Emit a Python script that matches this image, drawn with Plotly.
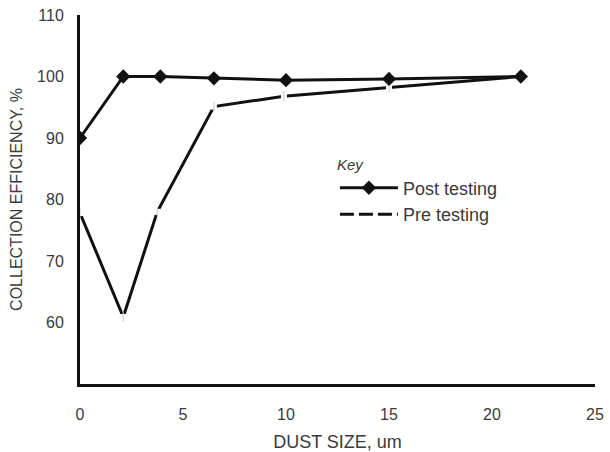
import plotly.graph_objects as go

dust_size_post = [0.0, 2.1, 3.9, 6.5, 10.0, 15.0, 21.4]
eff_post = [90.0, 100.0, 100.0, 99.7, 99.4, 99.6, 100.0]

dust_size_pre = [0.0, 2.1, 3.75, 6.5, 9.9, 15.0, 21.4]
eff_pre = [77.8, 60.9, 78.0, 95.1, 96.8, 98.2, 100.0]

x_ticks = [0, 5, 10, 15, 20, 25]
y_ticks = [60, 70, 80, 90, 100, 110]

FONT = "Liberation Sans, Arial, sans-serif"
TXT = "#3a3a3a"

fig = go.Figure()

# Pre testing line (solid in plot, with small white gaps at the points)
fig.add_trace(go.Scatter(
    x=dust_size_pre, y=eff_pre, mode="lines+markers",
    line=dict(color="#111111", width=3),
    marker=dict(symbol="square", size=6, color="white", line=dict(width=0)),
    showlegend=False, hoverinfo="skip",
))
fig.add_trace(go.Scatter(
    x=dust_size_pre, y=eff_pre, mode="markers",
    marker=dict(symbol="line-ns-open", size=7, color="#c8c8c8", line=dict(color="#c8c8c8", width=1)),
    showlegend=False, hoverinfo="skip",
))

# Post testing
fig.add_trace(go.Scatter(
    x=dust_size_post, y=eff_post, mode="lines+markers", name="Post testing",
    line=dict(color="#111111", width=3),
    marker=dict(symbol="diamond", size=11, color="#111111"),
))
# legend entry for Pre testing (dashed key)
fig.add_trace(go.Scatter(
    x=[None], y=[None], mode="lines", name="Pre testing",
    line=dict(color="#111111", width=3, dash="14px,5px"),
))

fig.update_layout(
    width=610, height=452,
    margin=dict(l=80, r=15, t=15, b=68),
    paper_bgcolor="white", plot_bgcolor="white",
    font=dict(family=FONT, color=TXT, size=16),
    legend=dict(
        title=dict(text="<i>Key</i>", font=dict(size=15, color=TXT)),
        x=0.495, y=0.634, xanchor="left", yanchor="top",
        bgcolor="rgba(0,0,0,0)", font=dict(size=18, color=TXT),
        tracegroupgap=0, itemwidth=58,
    ),
    xaxis=dict(
        range=[0, 25], tickvals=x_ticks, ticktext=[str(v) for v in x_ticks],
        showgrid=False, zeroline=False, showline=True, linecolor="#111111", linewidth=3,
        ticks="outside", ticklen=14, tickcolor="rgba(0,0,0,0)", tickfont=dict(size=16, color=TXT),
        ticklabeloverflow="allow", automargin=False,
        title=dict(text="DUST SIZE, um", font=dict(size=18, color=TXT), standoff=18),
    ),
    yaxis=dict(
        range=[50, 110], tickvals=y_ticks, ticktext=[str(v) for v in y_ticks],
        showgrid=False, zeroline=False, showline=True, linecolor="#111111", linewidth=3,
        ticks="outside", ticklen=10, tickcolor="rgba(0,0,0,0)", tickfont=dict(size=16, color=TXT),
        ticklabeloverflow="allow", automargin=False,
        title=dict(text="COLLECTION EFFICIENCY, %", font=dict(size=16, color=TXT), standoff=11),
    ),
)

fig.write_html(
    "out.html",
    config={"displayModeBar": False},
    post_script="document.body.style.margin='0';document.body.style.overflow='hidden';",
)
